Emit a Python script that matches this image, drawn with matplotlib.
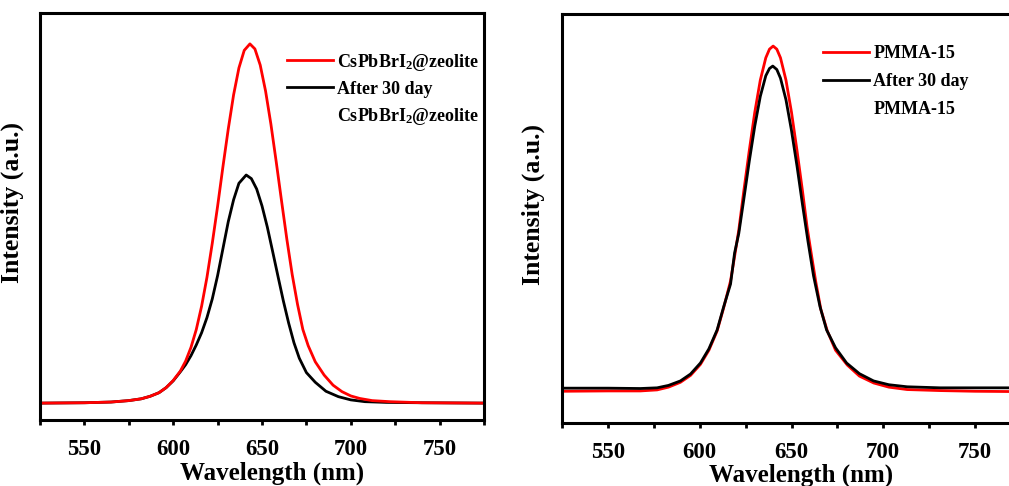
import matplotlib
matplotlib.use("Agg")
import matplotlib.pyplot as plt
from matplotlib.lines import Line2D
from matplotlib.ticker import MultipleLocator

plt.rcParams["font.family"] = ["Liberation Serif", "DejaVu Serif"]
plt.rcParams["mathtext.fontset"] = "custom"
plt.rcParams["mathtext.rm"] = "Liberation Serif:bold"
plt.rcParams["mathtext.it"] = "Liberation Serif:italic:bold"
plt.rcParams["mathtext.bf"] = "Liberation Serif:bold"

# left panel: CsPbBrI2@zeolite, fresh and after 30 days
zeo_nm = [525, 550, 565, 575, 582, 587, 592, 596, 600, 604, 607, 610, 613, 616, 619, 622,
          625, 628, 631, 634, 637, 640, 643.2, 646, 649, 652, 655, 658, 661, 664, 667, 670,
          673, 676, 680, 685, 690, 695, 700, 705, 712, 722, 740, 775]
zeo_fresh = [0, 0.001, 0.003, 0.007, 0.012, 0.019, 0.029, 0.043, 0.063, 0.089, 0.117, 0.155,
             0.205, 0.27, 0.35, 0.445, 0.548, 0.658, 0.763, 0.858, 0.933, 0.982, 1.0, 0.986,
             0.941, 0.869, 0.777, 0.672, 0.563, 0.456, 0.358, 0.275, 0.205, 0.16, 0.115,
             0.078, 0.05, 0.032, 0.02, 0.013, 0.007, 0.004, 0.001, 0.0]

zeo_aged_nm = [525, 550, 565, 575, 582, 587, 592, 596, 600, 604, 607, 610, 613, 616, 619,
               622, 625, 628, 631, 634, 637, 641.1, 644, 647, 650, 653, 656, 659, 662, 665,
               668, 671, 675, 680, 686, 693, 700, 708, 720, 740, 775]
zeo_aged = [0, 0.001, 0.003, 0.007, 0.012, 0.019, 0.029, 0.043, 0.062, 0.087, 0.107, 0.132,
            0.162, 0.196, 0.238, 0.29, 0.355, 0.43, 0.505, 0.566, 0.612, 0.635, 0.625, 0.596,
            0.549, 0.49, 0.422, 0.353, 0.285, 0.223, 0.168, 0.125, 0.085, 0.058, 0.033,
            0.018, 0.009, 0.004, 0.002, 0.001, 0.0]

# right panel: PMMA-15, fresh and after 30 days
pmma_nm = [525, 550, 567.7, 576.8, 583, 589.5, 595, 600.4, 605, 609.5, 613, 616.8, 619,
           621.3, 624, 627, 630, 633, 636, 638, 640, 642, 644, 647, 650, 653, 656, 658.5,
           661, 663.2, 666, 669.5, 674, 680.4, 687, 694.8, 703, 713, 731, 750, 775]
pmma_fresh = [-0.001, 0.0, 0.0, 0.003, 0.011, 0.025, 0.045, 0.077, 0.118, 0.174, 0.24,
              0.319, 0.39, 0.467, 0.579, 0.697, 0.808, 0.901, 0.966, 0.991, 1.0, 0.991,
              0.966, 0.901, 0.808, 0.697, 0.579, 0.475, 0.39, 0.317, 0.236, 0.174, 0.118,
              0.075, 0.043, 0.023, 0.011, 0.004, 0.001, -0.001, -0.002]

pmma_aged_nm = [525, 550, 567.7, 576.8, 583, 589.5, 595, 600.4, 605, 609.5, 613, 616.8, 619,
                621.3, 624, 627, 630, 633, 636, 638, 639.8, 642, 644, 647, 650, 653, 656,
                659, 662, 665.5, 669.1, 674, 680, 687, 694.7, 703, 713, 731, 775]
pmma_aged = [0.008, 0.008, 0.007, 0.009, 0.016, 0.029, 0.049, 0.081, 0.122, 0.177, 0.243,
             0.31, 0.4, 0.457, 0.555, 0.666, 0.768, 0.854, 0.914, 0.935, 0.942, 0.932,
             0.907, 0.844, 0.755, 0.652, 0.54, 0.433, 0.334, 0.245, 0.177, 0.125, 0.081,
             0.05, 0.029, 0.018, 0.012, 0.009, 0.009]

ZEO_LABEL = "CsPbBrI$_2$@zeolite"
PMMA_LABEL = "PMMA-15"
AGED_LABEL = "After 30 day"

LW = 2.0


def style_axes(ax, ylim):
    ax.set_xlim(525, 775)
    ax.set_ylim(*ylim)
    ax.xaxis.set_major_locator(MultipleLocator(50))
    ax.xaxis.set_minor_locator(MultipleLocator(25))
    ax.set_yticks([])
    ax.tick_params(axis="x", which="both", direction="out", length=3.5, width=2,
                   top=False, pad=10, labelsize=16.5)
    for lbl in ax.get_xticklabels():
        lbl.set_fontweight("bold")
    for sp in ax.spines.values():
        sp.set_linewidth(2.2)
    ax.set_xlabel("Wavelength (nm)", fontsize=18, fontweight="bold")
    ax.set_ylabel("Intensity (a.u.)", fontsize=18.5, fontweight="bold")


def add_legend(ax, first, anchor, spacing):
    handles = [Line2D([], [], color="red", lw=LW),
               Line2D([], [], color="black", lw=LW),
               Line2D([], [], color="none", lw=LW)]
    labels = [first, AGED_LABEL, first]
    ax.legend(handles, labels, loc="upper left", bbox_to_anchor=anchor, frameon=False,
              prop={"size": 13, "weight": "bold"}, handlelength=2.55, handletextpad=0.25,
              labelspacing=spacing, borderpad=0, borderaxespad=0)


fig = plt.figure(figsize=(10.09, 4.86), dpi=100)

ax1 = fig.add_axes([40 / 1009, 66 / 486, 444 / 1009, 407 / 486])
ax1.plot(zeo_aged_nm, zeo_aged, color="black", lw=LW)
ax1.plot(zeo_nm, zeo_fresh, color="red", lw=LW)
style_axes(ax1, (-0.047, 1.086))
ax1.xaxis.set_label_coords(0.522, -0.102)
ax1.yaxis.set_label_coords(-0.035, 0.535)
add_legend(ax1, ZEO_LABEL, (0.556, 0.905), 0.45)

ax2 = fig.add_axes([562 / 1009, 63 / 486, 459 / 1009, 409 / 486])
ax2.plot(pmma_nm, pmma_fresh, color="red", lw=LW)
ax2.plot(pmma_aged_nm, pmma_aged, color="black", lw=LW)
style_axes(ax2, (-0.093, 1.093))
ax2.xaxis.set_label_coords(0.52, -0.098)
ax2.yaxis.set_label_coords(-0.036, 0.535)
add_legend(ax2, PMMA_LABEL, (0.568, 0.923), 0.6)

fig.savefig("out.png", dpi=100)
